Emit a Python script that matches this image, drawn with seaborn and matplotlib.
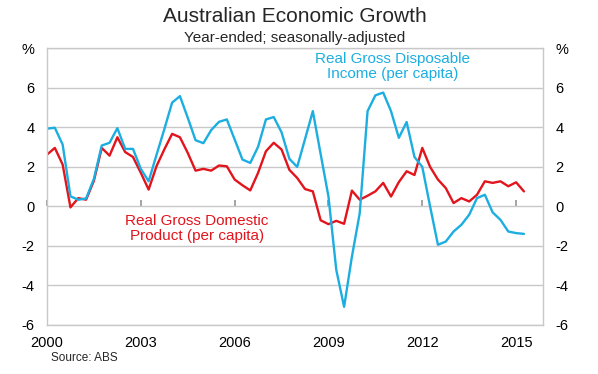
import numpy as np
import pandas as pd
import matplotlib
matplotlib.use("Agg")
import matplotlib.pyplot as plt
import seaborn as sns

# year-ended growth, seasonally adjusted, quarterly 2000 Q1 - 2015 Q2
quarters = pd.period_range("2000Q1", "2015Q2", freq="Q")

gdp_per_capita = [
    2.62, 2.96, 2.12, -0.05, 0.42, 0.34, 1.30, 2.96, 2.57, 3.50,
    2.75, 2.50, 1.70, 0.85, 2.03, 2.88, 3.67, 3.50, 2.71, 1.81,
    1.90, 1.81, 2.07, 2.03, 1.36, 1.07, 0.81, 1.70, 2.79, 3.22,
    2.88, 1.85, 1.44, 0.88, 0.76, -0.70, -0.90, -0.73, -0.88, 0.80,
    0.34, 0.54, 0.76, 1.19, 0.50, 1.23, 1.78, 1.59, 2.96, 2.00,
    1.36, 0.93, 0.17, 0.42, 0.25, 0.59, 1.27, 1.19, 1.27, 1.02,
    1.22, 0.76,
]
rgdi_per_capita = [
    3.93, 3.98, 3.13, 0.51, 0.34, 0.40, 1.40, 3.08, 3.22, 3.96,
    2.91, 2.91, 1.90, 1.27, 2.60, 3.90, 5.25, 5.58, 4.49, 3.35,
    3.20, 3.86, 4.28, 4.40, 3.39, 2.37, 2.20, 3.02, 4.40, 4.52,
    3.75, 2.41, 2.00, 3.40, 4.82, 2.65, 0.50, -3.21, -5.08, -2.54,
    -0.34, 4.82, 5.62, 5.76, 4.82, 3.47, 4.27, 2.50, 2.00, 0.00,
    -1.94, -1.78, -1.27, -0.93, -0.42, 0.42, 0.59, -0.30, -0.68, -1.27,
    -1.35, -1.39,
]

year_ticks = [2000, 2003, 2006, 2009, 2012, 2015]
y_ticks = [-6, -4, -2, 0, 2, 4, 6, 8]
y_labels = ["-6", "-4", "-2", "0", "2", "4", "6", "%"]

RED = "#e2141c"
BLUE = "#1caee0"
GRID = "#c8c8c8"

t = [q.year + (q.quarter - 1) / 4 for q in quarters]
df = pd.DataFrame({"date": t, "gdp": gdp_per_capita, "rgdi": rgdi_per_capita})
long = df.melt(id_vars="date", var_name="series", value_name="pct")

sns.set_theme(style="white")
plt.rcParams["font.family"] = ["Liberation Sans", "DejaVu Sans"]

fig = plt.figure(figsize=(5.98, 3.74), dpi=100)
ax = fig.add_axes([47 / 598, 49 / 374, 496 / 598, 276.7 / 374])

sns.lineplot(data=long, x="date", y="pct", hue="series",
             palette={"gdp": RED, "rgdi": BLUE}, linewidth=1.7,
             legend=False, ax=ax)

ax.set_xlim(2000, 2015.86)
ax.set_ylim(-6, 8)
ax.set_yticks(y_ticks)
ax.set_yticklabels(y_labels)
ax.set_xticks(year_ticks)
ax.set_xticklabels([str(y) for y in year_ticks])
ax.grid(axis="y", color=GRID, linewidth=1)
ax.set_axisbelow(True)
ax.set_xlabel("")
ax.set_ylabel("")
ax.tick_params(axis="both", length=0, labelsize=10.5, colors="black")
ax.tick_params(axis="y", labelright=True, pad=9)
ax.tick_params(axis="x", pad=8)
for s in ax.spines.values():
    s.set_color(GRID)
    s.set_linewidth(1)

# small year ticks sitting on the zero line
zero = ax.secondary_xaxis(6 / 14)
zero.set_xticks(year_ticks)
zero.tick_params(direction="in", length=4, color="#999999", labelbottom=False)
zero.spines["bottom"].set_visible(False)

ax.text(2004.8, -1.13, "Real Gross Domestic\nProduct (per capita)",
        color=RED, fontsize=11, ha="center", va="center", linespacing=1.1)
ax.text(2011.06, 7.07, "Real Gross Disposable\nIncome (per capita)",
        color=BLUE, fontsize=11, ha="center", va="center", linespacing=1.1)

fig.text(295 / 598, 1 - 17 / 374, "Australian Economic Growth",
         fontsize=15, ha="center", va="center")
fig.text(295 / 598, 1 - 38 / 374, "Year-ended; seasonally-adjusted",
         fontsize=11, ha="center", va="center")
fig.text(51 / 598, 1 - 358 / 374, "Source: ABS", fontsize=8.5,
         ha="left", va="center")

fig.savefig("out.png", dpi=100)
